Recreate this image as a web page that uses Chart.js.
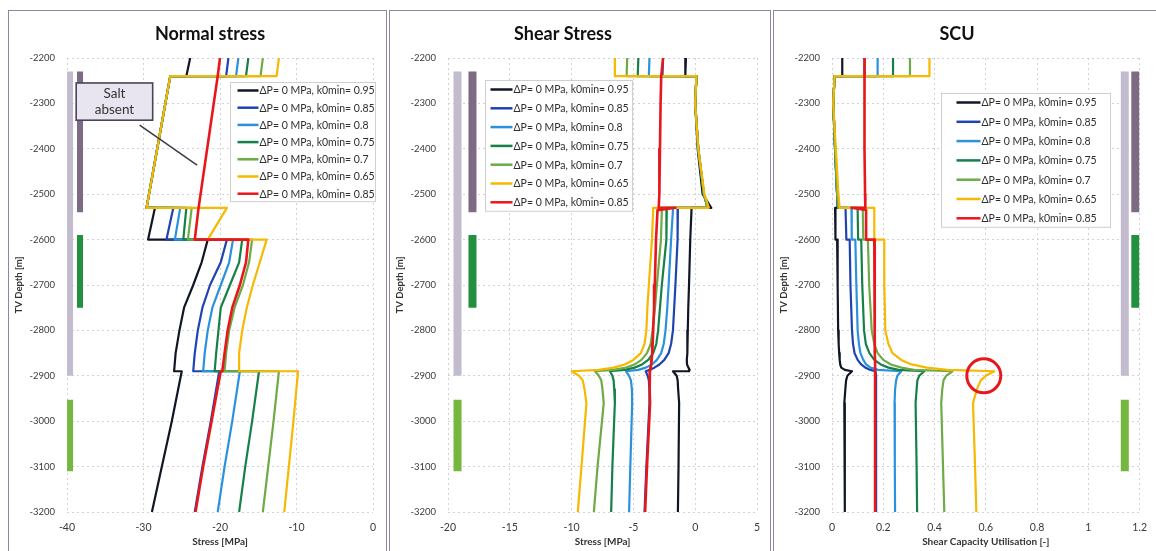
<!DOCTYPE html>
<html>
<head>
<meta charset="utf-8">
<script src="https://cdn.jsdelivr.net/npm/chart.js@4/dist/chart.umd.min.js"></script>
<style>
  body { margin: 0; background: #fff; width: 1156px; height: 551px; overflow: hidden; position: relative; font-family: Lato, sans-serif; }
  .panel { position: absolute; top: 10px; height: 560px; border: 1px solid #8c86a6; box-sizing: border-box; background: #fff; }
  .panel canvas { position: absolute; left: 0; top: 0; }
</style>
</head>
<body>
<div class="panel" style="left:8px;width:379px"><canvas id="normalChart" width="377" height="540"></canvas></div>
<div class="panel" style="left:389px;width:382px"><canvas id="shearChart" width="380" height="540"></canvas></div>
<div class="panel" style="left:773px;width:385px"><canvas id="scuChart" width="382" height="540"></canvas></div>
<script>
// --- series names (same seven runs in every panel) ---
const seriesLabels = [
    'ΔP= 0 MPa, k0min= 0.95',
    'ΔP= 0 MPa, k0min= 0.85',
    'ΔP= 0 MPa, k0min= 0.8',
    'ΔP= 0 MPa, k0min= 0.75',
    'ΔP= 0 MPa, k0min= 0.7',
    'ΔP= 0 MPa, k0min= 0.65',
    'ΔP= 0 MPa, k0min= 0.85'
];
const seriesColors = ['#111626', '#1f44b2', '#2a92dc', '#168048', '#6cab45', '#f6b800', '#e8171c'];
const drawOrder = [6, 5, 4, 3, 2, 1, 0]; // red on top, then yellow...

// --- axis ticks ---
const depthTicks = [-2200, -2300, -2400, -2500, -2600, -2700, -2800, -2900, -3000, -3100, -3200];
const normalTicks = [-40, -30, -20, -10, 0];
const shearTicks = [-20, -15, -10, -5, 0, 5];
const scuTicks = [0, 0.2, 0.4, 0.6, 0.8, 1, 1.2];

// --- formation columns (depth intervals, m) ---
const overburdenCol = [-2230, -2900];
const saltCol = [-2230, -2540];
const reservoirUpper = [-2590, -2750];
const reservoirLower = [-2953, -3110];

// --- 1. Normal stress [MPa] ---
const normalDepth = [-2200, -2240, -2240, -2530, -2530, -2600, -2600, -2650, -2700, -2750, -2800, -2850, -2890, -2890, -3000, -3100, -3200];
const normalK095 = [-23.9, -24.4, -26.5, -29.6, -28.5, -29.4, -21.6, -22.4, -23.5, -24.7, -25.3, -25.8, -26.0, -25.0, -26.3, -27.6, -28.9];
const normalK085 = [-18.9, -19.2, -26.5, -29.6, -26.1, -27.0, -19.1, -19.9, -21.3, -22.3, -22.9, -23.3, -23.5, -20.1, -21.2, -22.3, -23.3];
const normalK080 = [-17.6, -17.9, -26.5, -29.6, -25.2, -25.9, -18.3, -18.8, -19.9, -21.0, -21.6, -22.0, -22.2, -17.4, -18.4, -19.4, -20.3];
const normalK075 = [-16.3, -16.6, -26.5, -29.6, -24.4, -24.8, -17.1, -17.5, -18.7, -19.9, -20.2, -20.5, -20.7, -14.9, -15.8, -16.7, -17.5];
const normalK070 = [-14.4, -14.7, -26.5, -29.6, -23.7, -24.2, -15.8, -16.2, -17.0, -18.1, -18.8, -19.2, -19.4, -12.3, -13.0, -13.7, -14.4];
const normalK065 = [-12.3, -12.6, -26.5, -29.6, -19.1, -21.6, -13.9, -14.8, -15.7, -16.5, -17.1, -17.5, -17.5, -9.8, -10.4, -11.0, -11.6];
const normalNoSalt = [-20.0, -20.3, -20.3, -22.8, -22.8, -23.3, -16.3, -16.6, -17.4, -18.4, -19.0, -19.4, -19.7, -19.9, -21.1, -22.2, -23.2];

// --- 2. Shear stress [MPa] ---
const shearDepth = [-2200, -2240, -2240, -2300, -2400, -2500, -2530, -2530, -2535, -2600, -2700, -2750, -2800, -2830, -2850, -2865, -2875, -2882, -2887, -2890, -2890, -2900, -2910, -2930, -2960, -3100, -3200];
const shearK095 = [-0.75, -0.8, 0.1, 0.0, 0.2, 0.6, 1.3, -0.3, -0.3, -0.4, -0.5, -0.56, -0.6, -0.62, -0.65, -0.68, -0.66, -0.55, -0.45, -0.5, -1.8, -1.5, -1.42, -1.38, -1.3, -1.35, -1.4];
const shearK085 = [-2.6, -2.65, 0.1, 0.0, 0.25, 0.7, 1.0, -1.4, -1.4, -1.45, -1.6, -1.7, -1.8, -1.95, -2.15, -2.5, -2.9, -3.3, -3.7, -4.0, -4.0, -3.85, -3.75, -3.7, -3.7, -3.95, -4.1];
const shearK080 = [-3.7, -3.75, 0.1, 0.0, 0.25, 0.7, 1.0, -1.8, -1.8, -1.95, -2.15, -2.26, -2.4, -2.55, -2.75, -3.1, -3.5, -4.0, -4.6, -5.6, -5.6, -5.35, -5.2, -5.12, -5.1, -5.25, -5.35];
const shearK075 = [-4.6, -4.65, 0.1, 0.0, 0.25, 0.7, 1.0, -2.3, -2.3, -2.36, -2.7, -2.85, -3.0, -3.15, -3.4, -3.8, -4.3, -4.9, -5.7, -6.9, -6.9, -6.7, -6.6, -6.55, -6.5, -6.7, -6.8];
const shearK070 = [-5.5, -5.55, 0.1, 0.0, 0.25, 0.7, 1.0, -2.7, -2.7, -2.77, -3.1, -3.25, -3.45, -3.6, -3.9, -4.35, -4.9, -5.6, -6.6, -8.1, -8.1, -7.8, -7.6, -7.5, -7.4, -7.9, -8.2];
const shearK065 = [-6.5, -6.5, 0.1, 0.0, 0.25, 0.75, 1.1, -3.4, -3.4, -3.5, -3.75, -3.87, -3.95, -4.1, -4.4, -5.0, -5.7, -6.6, -7.8, -10.0, -10.0, -9.4, -9.1, -8.95, -8.8, -9.2, -9.5];
const shearNoSalt = [-2.6, -2.75, -2.75, -2.8, -2.85, -2.9, -2.95, -1.6, -3.05, -3.17, -3.27, -3.33, -3.4, -3.44, -3.48, -3.52, -3.56, -3.6, -3.63, -3.66, -3.66, -3.7, -3.7, -3.68, -3.65, -3.9, -4.05];

// --- 3. Shear capacity utilisation [-] ---
const scuDepth = [-2200, -2240, -2240, -2300, -2400, -2500, -2530, -2530, -2535, -2600, -2600, -2700, -2800, -2830, -2850, -2865, -2875, -2882, -2887, -2890, -2890, -2900, -2910, -2930, -2960, -3100, -3200];
const scuK095 = [0.04, 0.04, 0.01, 0.005, 0.012, 0.02, 0.022, 0.012, 0.012, 0.015, 0.02, 0.022, 0.024, 0.026, 0.028, 0.03, 0.032, 0.036, 0.05, 0.078, 0.078, 0.06, 0.055, 0.052, 0.048, 0.05, 0.05];
const scuK085 = [0.127, 0.127, 0.01, 0.005, 0.012, 0.02, 0.024, 0.053, 0.053, 0.056, 0.069, 0.072, 0.078, 0.082, 0.088, 0.1, 0.114, 0.13, 0.15, 0.17, 0.17, 0.172, 0.172, 0.172, 0.172, 0.172, 0.172];
const scuK080 = [0.178, 0.178, 0.01, 0.005, 0.012, 0.02, 0.025, 0.076, 0.076, 0.078, 0.091, 0.095, 0.1, 0.105, 0.111, 0.122, 0.133, 0.15, 0.18, 0.27, 0.27, 0.255, 0.25, 0.246, 0.244, 0.245, 0.246];
const scuK075 = [0.238, 0.238, 0.01, 0.005, 0.012, 0.02, 0.025, 0.1, 0.1, 0.102, 0.114, 0.118, 0.125, 0.132, 0.146, 0.165, 0.19, 0.22, 0.26, 0.36, 0.36, 0.34, 0.333, 0.33, 0.326, 0.33, 0.332];
const scuK070 = [0.304, 0.304, 0.01, 0.005, 0.012, 0.02, 0.025, 0.12, 0.12, 0.122, 0.14, 0.145, 0.155, 0.165, 0.178, 0.2, 0.23, 0.27, 0.32, 0.47, 0.47, 0.445, 0.435, 0.43, 0.426, 0.433, 0.438];
const scuK065 = [0.38, 0.38, 0.01, 0.005, 0.015, 0.025, 0.03, 0.165, 0.165, 0.165, 0.204, 0.204, 0.208, 0.22, 0.236, 0.27, 0.31, 0.37, 0.45, 0.633, 0.633, 0.6, 0.58, 0.565, 0.55, 0.558, 0.563];
const scuNoSalt = [0.127, 0.126, 0.126, 0.127, 0.128, 0.129, 0.13, 0.076, 0.133, 0.133, 0.165, 0.166, 0.167, 0.167, 0.167, 0.168, 0.168, 0.168, 0.168, 0.168, 0.168, 0.168, 0.168, 0.168, 0.168, 0.169, 0.169];

const FONT = 'Lato, "Open Sans", sans-serif';

// Helper: the seven profile lines of one panel
function profileSets(depth, valueLists) {
    return valueLists.map((vals, i) => ({
        label: seriesLabels[i],
        data: vals.map((v, j) => ({ x: v, y: depth[j] })),
        borderColor: seriesColors[i],
        borderWidth: i === 6 ? 2.6 : 2.2,
        borderJoinStyle: 'round',
        order: drawOrder[i],
        showLine: true,
        pointRadius: 0,
        tension: 0
    }));
}

// Helper: the coloured formation columns next to the axis
function columnSets(xLight, xDark, width) {
    const cols = [
        [overburdenCol, xLight, '#c3bccf'],
        [saltCol, xDark, '#7c6b82'],
        [reservoirUpper, xDark, '#23903f'],
        [reservoirLower, xLight, '#74b83f']
    ];
    return cols.map(([iv, xv, c]) => ({
        data: iv.map(d => ({ x: xv, y: d })),
        borderColor: c,
        borderWidth: width,
        borderCapStyle: 'butt',
        order: 10,
        showLine: true,
        pointRadius: 0
    }));
}

// Plugin: panel title, boxed legend, callouts
function decorPlugin(cfg) {
    return {
        id: 'decor',
        afterDatasetsDraw(chart) {
            const { ctx, scales: { x, y } } = chart;
            ctx.save();
            // "Salt absent" callout
            if (cfg.callout) {
                const c = cfg.callout;
                const x1 = x.getPixelForValue(c.x1), x2 = x.getPixelForValue(c.x2);
                const y1 = y.getPixelForValue(c.y1), y2 = y.getPixelForValue(c.y2);
                ctx.strokeStyle = '#3c3848';
                ctx.lineWidth = 1.5;
                ctx.beginPath();
                ctx.moveTo(x.getPixelForValue(c.from[0]), y.getPixelForValue(c.from[1]));
                ctx.lineTo(x.getPixelForValue(c.to[0]), y.getPixelForValue(c.to[1]));
                ctx.stroke();
                ctx.fillStyle = '#e9e5f0';
                ctx.fillRect(x1, y1, x2 - x1, y2 - y1);
                ctx.strokeStyle = '#4a4458';
                ctx.lineWidth = 1.6;
                ctx.strokeRect(x1, y1, x2 - x1, y2 - y1);
                ctx.fillStyle = '#333';
                ctx.font = '13.5px ' + FONT;
                ctx.textAlign = 'center';
                ctx.textBaseline = 'middle';
                const cx = (x1 + x2) / 2;
                ctx.fillText(c.text[0], cx, y1 + 11);
                ctx.fillText(c.text[1], cx, y1 + 27);
            }
            // red highlight circle
            if (cfg.circle) {
                const c = cfg.circle;
                ctx.strokeStyle = '#e8171c';
                ctx.lineWidth = 3;
                ctx.beginPath();
                ctx.arc(x.getPixelForValue(c.x), y.getPixelForValue(c.y), c.r, 0, Math.PI * 2);
                ctx.stroke();
            }
            // boxed legend
            const lg = cfg.legend;
            const items = chart.data.datasets.filter(d => d.label);
            const left = Math.round(x.getPixelForValue(lg.x)) + 0.5;
            const top = Math.round(y.getPixelForValue(lg.y)) + 0.5;
            const h = lg.first * 2 + lg.gap * (items.length - 1);
            ctx.fillStyle = '#fff';
            ctx.fillRect(left, top, lg.width, h);
            ctx.strokeStyle = '#cfcfcf';
            ctx.lineWidth = 1;
            ctx.strokeRect(left, top, lg.width, h);
            ctx.font = lg.size + 'px ' + FONT;
            ctx.textAlign = 'left';
            ctx.textBaseline = 'middle';
            items.forEach((d, i) => {
                const yy = top + lg.first + i * lg.gap;
                ctx.strokeStyle = d.borderColor;
                ctx.lineWidth = 2.5;
                ctx.beginPath();
                ctx.moveTo(left + lg.lineStart, yy);
                ctx.lineTo(left + lg.lineStart + lg.lineLen, yy);
                ctx.stroke();
                ctx.fillStyle = '#2e2e2e';
                ctx.fillText(d.label, left + lg.lineStart + lg.lineLen + 1, yy + 0.5);
            });
            // panel title
            ctx.fillStyle = '#111';
            ctx.font = 'bold 18px ' + FONT;
            ctx.textAlign = 'center';
            ctx.fillText(cfg.title, cfg.titleX, 23);
            ctx.restore();
        }
    };
}

function buildPanel(id, datasets, xTicks, xMin, xMax, xTitle, rightPad, decor) {
    const ctx = document.getElementById(id).getContext('2d');
    return new Chart(ctx, {
        type: 'scatter',
        data: { datasets: datasets },
        options: {
            responsive: false,
            animation: false,
            devicePixelRatio: 1,
            layout: { padding: { left: 0, right: rightPad, top: 47, bottom: 0 } },
            plugins: { legend: { display: false }, tooltip: { enabled: false } },
            scales: {
                x: {
                    type: 'linear', min: xMin, max: xMax,
                    afterBuildTicks: s => { s.ticks = xTicks.map(v => ({ value: v })); },
                    afterFit: s => { s.height = 39; },
                    grid: { color: '#d2d2d6', drawTicks: false },
                    border: { display: false, dash: [2, 3] },
                    ticks: { padding: 9, color: '#3a3a3a', font: { family: FONT, size: 10.5 },
                             callback: v => String(v) },
                    title: { display: true, text: xTitle, color: '#333', padding: { top: 0, bottom: 3 },
                             font: { family: FONT, size: 10, weight: 'bold' } }
                },
                y: {
                    type: 'linear', min: -3200, max: -2200,
                    afterBuildTicks: s => { s.ticks = depthTicks.map(v => ({ value: v })); },
                    afterFit: s => { s.width = 58; },
                    grid: { color: '#d2d2d6', drawTicks: false },
                    border: { display: false, dash: [2, 3] },
                    ticks: { padding: 12, color: '#3a3a3a', font: { family: FONT, size: 9.5 },
                             callback: v => String(v) },
                    title: { display: true, text: 'TV Depth [m]', color: '#333', padding: { top: 4, bottom: 0 },
                             font: { family: FONT, size: 9.5, weight: 'bold' } }
                }
            }
        },
        plugins: [decorPlugin(decor)]
    });
}

document.addEventListener('DOMContentLoaded', () => {
    buildPanel('normalChart',
        profileSets(normalDepth, [normalK095, normalK085, normalK080, normalK075, normalK070, normalK065, normalNoSalt])
            .concat(columnSets(-39.6, -38.3, 6)),
        normalTicks, -40, 0, 'Stress [MPa]', 13,
        {
            title: 'Normal stress', titleX: 201,
            legend: { x: -18.7, y: -2253, width: 145, first: 8, gap: 17.2, lineStart: 7, lineLen: 21, size: 10.5 },
            callout: { x1: -38.8, x2: -28.8, y1: -2255, y2: -2337, text: ['Salt', 'absent'],
                       from: [-30.5, -2348], to: [-23.0, -2436] }
        });

    buildPanel('shearChart',
        profileSets(shearDepth, [shearK095, shearK085, shearK080, shearK075, shearK070, shearK065, shearNoSalt])
            .concat(columnSets(-19.23, -18.02, 8)),
        shearTicks, -20, 5, 'Stress [MPa]', 13,
        {
            title: 'Shear Stress', titleX: 173,
            legend: { x: -17.0, y: -2248.5, width: 147, first: 9, gap: 18.8, lineStart: 5, lineLen: 22, size: 10.5 }
        });

    buildPanel('scuChart',
        profileSets(scuDepth, [scuK095, scuK085, scuK080, scuK075, scuK070, scuK065, scuNoSalt])
            .concat(columnSets(1.142, 1.183, 8)),
        scuTicks, 0, 1.2, 'Shear Capacity Utilisation [-]', 11,
        {
            title: 'SCU', titleX: 183,
            legend: { x: 0.427, y: -2277, width: 169, first: 9, gap: 19.3, lineStart: 15, lineLen: 24, size: 10.5 },
            circle: { x: 0.592, y: -2900, r: 17 }
        });
});
</script>
</body>
</html>
